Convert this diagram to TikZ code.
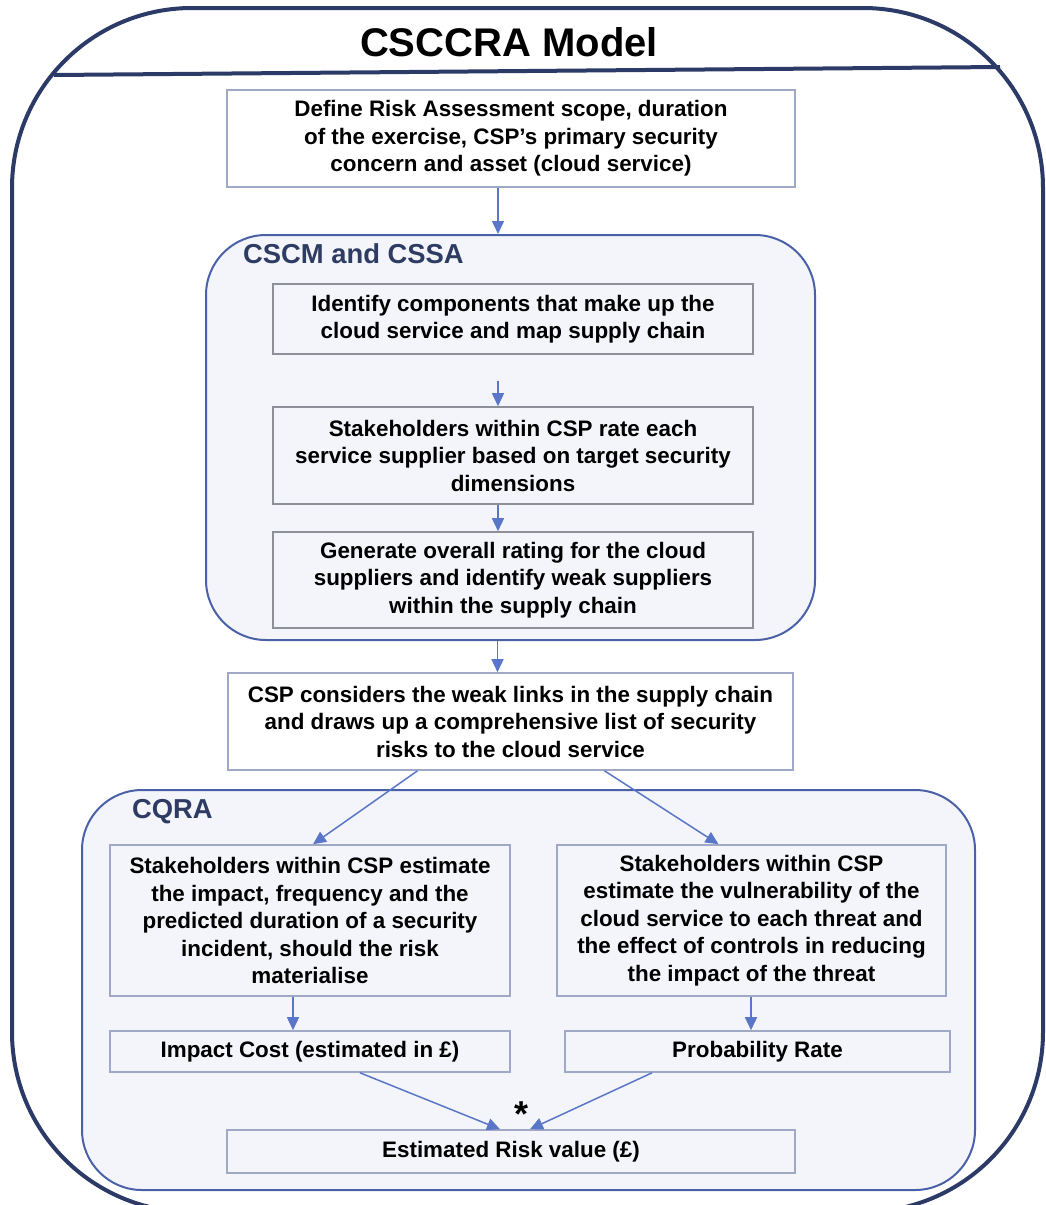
\documentclass[tikz,border=0pt]{standalone}
\usepackage{fontspec}
\setmainfont{Liberation Sans}
\usetikzlibrary{arrows.meta}
\definecolor{navy}{HTML}{2B3A66}
\definecolor{grpline}{HTML}{4A61A8}
\definecolor{grpfill}{HTML}{F4F5FA}
\definecolor{grptext}{HTML}{2E3C63}
\definecolor{boxline}{HTML}{9FA9C6}
\definecolor{innerline}{HTML}{8E9099}
\definecolor{arrowc}{HTML}{5A76C8}
\tikzset{
  outerframe/.style={draw=navy, line width=2pt, rounded corners=90pt},
  group/.style={draw=grpline, line width=1pt, fill=grpfill, rounded corners=30pt},
  grouptitle/.style={anchor=west, text=grptext, font=\fontsize{13.7}{16}\selectfont\bfseries},
  stepbox/.style={draw=boxline, line width=0.8pt, fill=white, align=center,
    inner sep=0pt, font=\fontsize{11.2}{13.75}\selectfont\bfseries},
  innerbox/.style={stepbox, draw=innerline, fill=grpfill},
  lightbox/.style={stepbox, fill=grpfill},
  arr/.style={draw=arrowc, line width=0.75pt, -{Triangle[length=6.5pt,width=6pt]}},
}
\begin{document}
\begin{tikzpicture}[x=0.5pt,y=-0.5pt]
\useasboundingbox (0,0) rectangle (1045,1205);
\clip (0,0) rectangle (1045,1205);

% outer frame with title band
\draw[outerframe] (12,8) rectangle (1043,1212);
\node[font=\fontsize{20}{24}\selectfont\bfseries] (title) at (509,42) {CSCCRA Model};
\draw[navy, line width=2pt] (54,75) -- (1000,67);

% scope definition
\node[stepbox, minimum width=284pt, minimum height=48.5pt] (b1) at (511,138.5)
  {Define Risk Assessment scope, duration\\of the exercise, CSP’s primary security\\concern and asset (cloud service)};

% CSCM and CSSA group
\node[group, minimum width=304.5pt, minimum height=202.5pt] (cscm) at (510.5,437.5) {};
\node[grouptitle] (cscmt) at (236,254) {CSCM and CSSA};
\node[innerbox, minimum width=240pt, minimum height=35pt] (b2) at (513,319)
  {Identify components that make up the\\cloud service and map supply chain};
\node[innerbox, minimum width=240pt, minimum height=48.5pt] (b3) at (513,455.5)
  {Stakeholders within CSP rate each\\service supplier based on target security\\dimensions};
\node[innerbox, minimum width=240pt, minimum height=48pt] (b4) at (513,580)
  {Generate overall rating for the cloud\\suppliers and identify weak suppliers\\within the supply chain};

% weak links
\node[stepbox, minimum width=282.5pt, minimum height=48.5pt] (b5) at (510.5,721.5)
  {CSP considers the weak links in the supply chain\\and draws up a comprehensive list of security\\risks to the cloud service};

% CQRA group
\node[group, minimum width=446.5pt, minimum height=200pt] (cqra) at (528.5,990) {};
\node[grouptitle] (cqrat) at (125,812) {CQRA};
\node[innerbox, draw=boxline, minimum width=200pt, minimum height=75.5pt] (b6) at (310,920.5)
  {Stakeholders within CSP estimate\\the impact, frequency and the\\predicted duration of a security\\incident, should the risk\\materialise};
\node[innerbox, draw=boxline, minimum width=194.5pt, minimum height=75.5pt] (b7) at (751.5,920.5)
  {Stakeholders within CSP\\estimate the vulnerability of the\\cloud service to each threat and\\the effect of controls in reducing\\the impact of the threat};
\node[lightbox, minimum width=200pt, minimum height=20.5pt] (b8) at (310,1051.5)
  {Impact Cost (estimated in £)};
\node[lightbox, minimum width=192.5pt, minimum height=20.5pt] (b9) at (757.5,1051.5)
  {Probability Rate};
\node[lightbox, minimum width=284pt, minimum height=21.5pt] (b10) at (511,1151.5)
  {Estimated Risk value (£)};
\node[font=\fontsize{18}{20}\selectfont\bfseries] (star) at (521,1114) {*};

% connectors
\draw[arr] ([xshift=-6.5pt]b1.south) -- ([xshift=-6.5pt]b1.south |- cscm.north);
\draw[arr] ([shift={(-7.5pt,-13pt)}]b2.south) -- ([xshift=-7.5pt]b3.north);
\draw[arr] ([xshift=-7.5pt]b3.south) -- ([xshift=-7.5pt]b4.north);
\draw[arr] ([xshift=-6.5pt]cscm.south) -- ([xshift=-6.5pt]cscm.south |- b5.north);
\draw[arr] ([xshift=-46.5pt]b5.south) -- ([xshift=1.5pt]b6.north);
\draw[arr] ([xshift=47pt]b5.south) -- ([xshift=-16.5pt]b7.north);
\draw[arr] ([xshift=-8.5pt]b6.south) -- ([xshift=-8.5pt]b8.north);
\draw[arr] ([xshift=-0.25pt]b7.south) -- ([xshift=-3.25pt]b9.north);
\draw[arr] ([xshift=25pt]b8.south) -- ([xshift=-5.5pt]b10.north);
\draw[arr] ([xshift=-52.75pt]b9.south) -- ([xshift=9.5pt]b10.north);
\end{tikzpicture}
\end{document}
